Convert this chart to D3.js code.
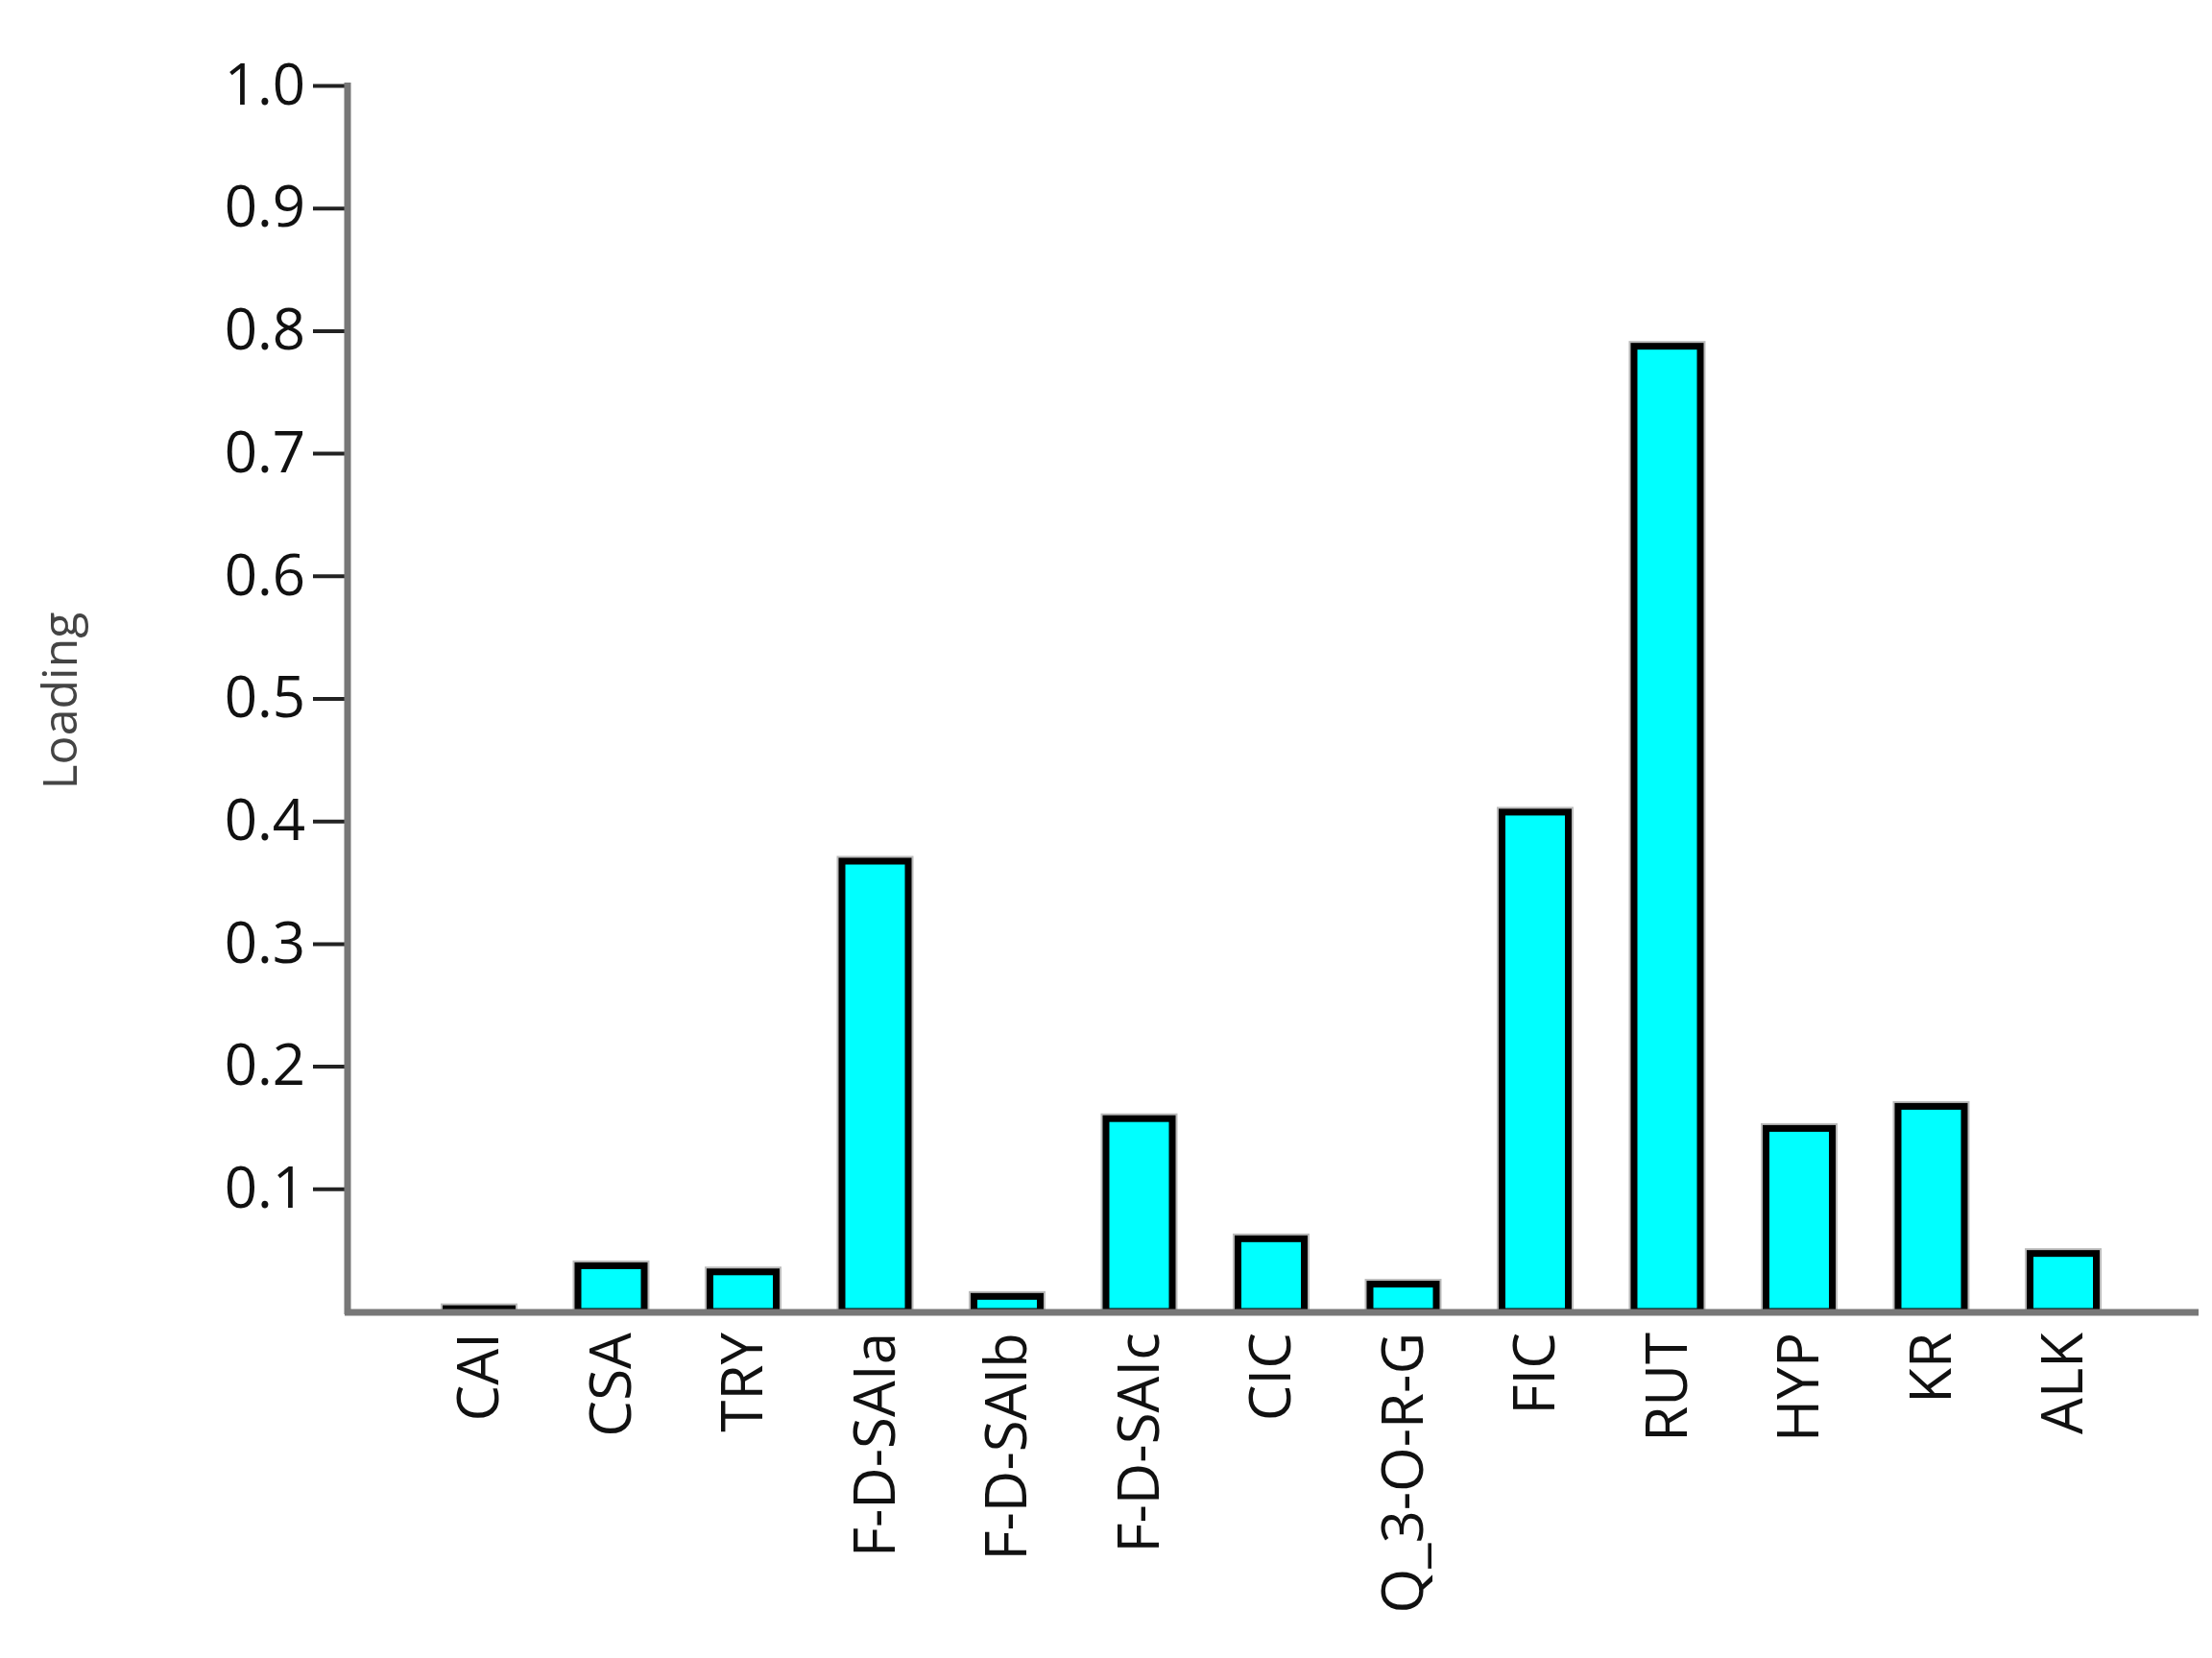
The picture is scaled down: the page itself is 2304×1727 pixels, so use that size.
<!DOCTYPE html>
<html><head><meta charset="utf-8">
<script src="https://cdn.jsdelivr.net/npm/d3@7"></script>
<style>body{margin:0;background:#fff}svg{display:block}</style>
</head><body>
<svg id="chart" width="2304" height="1727"></svg>
<script>
var categories = ['CAI','CSA','TRY','F-D-SAIa','F-D-SAIb','F-D-SAIc','CIC','Q_3-O-R-G','FIC','RUT','HYP','KR','ALK'];
var loadings = [0.005,0.04,0.035,0.37,0.015,0.16,0.062,0.025,0.41,0.79,0.152,0.17,0.05];
var yTicks = [0.1,0.2,0.3,0.4,0.5,0.6,0.7,0.8,0.9,1.0];

var svg = d3.select('#chart');
var x = d3.scalePoint().domain(categories).range([499, 2149]);
var y = d3.scaleLinear().domain([0, 1]).range([1366, 89]);
var barW = 76;

// bars: grey halo, then black outline with cyan fill
svg.selectAll('rect.halo').data(loadings).enter().append('rect')
  .attr('x', function (d, i) { return x(categories[i]) - barW / 2 - 2; })
  .attr('y', function (d) { return y(d) - 2; })
  .attr('width', barW + 4)
  .attr('height', function (d) { return y(0) - y(d) + 2; })
  .attr('fill', '#bbb');
svg.selectAll('rect.bar').data(loadings).enter().append('rect')
  .attr('x', function (d, i) { return x(categories[i]) - barW / 2 + 3.5; })
  .attr('y', function (d) { return y(d) + 3.5; })
  .attr('width', barW - 7)
  .attr('height', function (d) { return Math.max(0, y(0) - y(d) - 3.5); })
  .attr('fill', '#00ffff').attr('stroke', '#000').attr('stroke-width', 7);

// y axis
var yAxis = svg.append('g').attr('transform', 'translate(362,0)')
  .call(d3.axisLeft(y).tickValues(yTicks).tickFormat(d3.format('.1f')).tickSize(36).tickPadding(8));
yAxis.select('.domain').remove();
yAxis.selectAll('.tick line').attr('stroke', '#222').attr('stroke-width', 4);
yAxis.selectAll('text').attr('font-family', 'Open Sans').attr('font-size', 60).attr('fill', '#111');
svg.append('line').attr('x1', 362).attr('x2', 362).attr('y1', 86).attr('y2', 1369)
  .attr('stroke', '#777').attr('stroke-width', 7);

// x axis
svg.append('line').attr('x1', 359).attr('x2', 2290).attr('y1', y(0) + 1).attr('y2', y(0) + 1)
  .attr('stroke', '#777').attr('stroke-width', 7);
svg.selectAll('text.xl').data(categories).enter().append('text')
  .attr('transform', function (d) { return 'translate(' + (x(d) + 20) + ',1388) rotate(-90)'; })
  .attr('text-anchor', 'end')
  .attr('font-family', 'Open Sans').attr('font-size', 60).attr('fill', '#111')
  .text(function (d) { return d; });

svg.append('text').attr('transform', 'translate(80,730) rotate(-90)')
  .attr('text-anchor', 'middle').attr('font-family', 'Open Sans').attr('font-size', 50)
  .attr('fill', '#444').text('Loading');
</script>
</body></html>
